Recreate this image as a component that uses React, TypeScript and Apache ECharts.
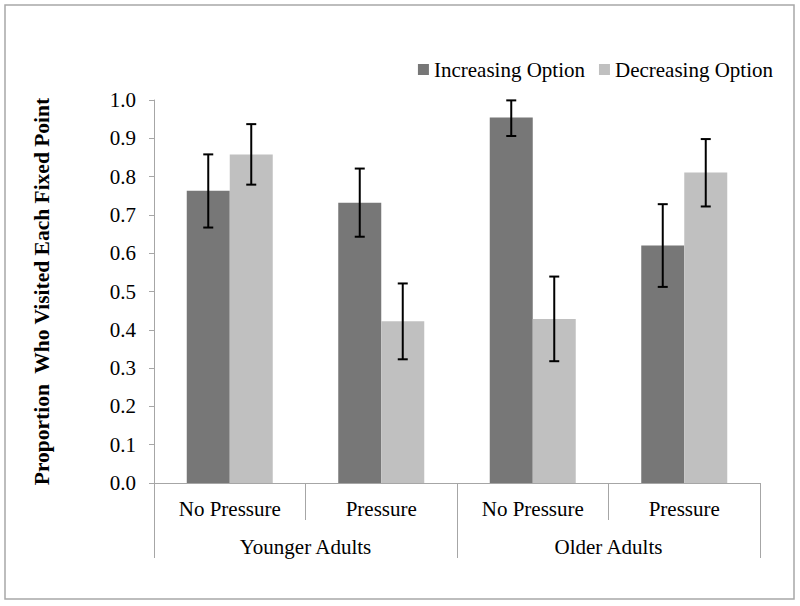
import React, { useEffect, useRef } from "react";
import * as echarts from "echarts";

const conditions = ["No Pressure", "Pressure", "No Pressure", "Pressure"];
const groups = ["Younger Adults", "Older Adults"];
const seriesNames = ["Increasing Option", "Decreasing Option"];
const increasing = [0.763, 0.732, 0.954, 0.62];
const decreasing = [0.858, 0.422, 0.428, 0.811];
const increasingLow = [0.667, 0.643, 0.906, 0.512];
const increasingHigh = [0.858, 0.821, 0.999, 0.728];
const decreasingLow = [0.779, 0.323, 0.318, 0.722];
const decreasingHigh = [0.937, 0.521, 0.539, 0.898];
const yTicks = [0, 0.1, 0.2, 0.3, 0.4, 0.5, 0.6, 0.7, 0.8, 0.9, 1.0];

const FONT = "Liberation Serif";
const AXIS_GRAY = "#a6a6a6";
const BAR_W = 43;
const FS = 21;

function errorSeries(low: number[], high: number[], offset: number) {
  return {
    type: "custom",
    xAxisIndex: 0,
    yAxisIndex: 0,
    silent: true,
    z: 10,
    data: low.map((l, i) => [i, l, high[i]]),
    encode: { x: 0, y: [1, 2] },
    renderItem: (params: any, api: any) => {
      const cat = api.value(0);
      const pLo = api.coord([cat, api.value(1)]);
      const pHi = api.coord([cat, api.value(2)]);
      const x = pLo[0] + offset;
      const st = { stroke: "#000", lineWidth: 2 };
      return {
        type: "group",
        children: [
          { type: "line", shape: { x1: x, y1: pHi[1], x2: x, y2: pLo[1] }, style: st },
          { type: "line", shape: { x1: x - 5, y1: pHi[1], x2: x + 5, y2: pHi[1] }, style: st },
          { type: "line", shape: { x1: x - 5, y1: pLo[1], x2: x + 5, y2: pLo[1] }, style: st },
        ],
      };
    },
  };
}

export default function App() {
  const ref = useRef<HTMLDivElement>(null);
  useEffect(() => {
    if (!ref.current) return;
    const chart = echarts.init(ref.current, undefined, { renderer: "svg" });
    chart.setOption({
      animation: false,
      backgroundColor: "#fff",
      textStyle: { fontFamily: FONT, color: "#000" },
      graphic: [
        {
          type: "rect",
          shape: { x: 5, y: 5, width: 789, height: 594 },
          style: { fill: "none", stroke: "#a8a8a8", lineWidth: 1.5 },
          silent: true,
        },
      ],
      legend: {
        data: seriesNames,
        right: 22,
        top: 54,
        icon: "rect",
        itemWidth: 11,
        itemHeight: 11,
        itemGap: 14,
        textStyle: { fontFamily: FONT, fontSize: FS, color: "#000" },
      },
      grid: { left: 154, top: 100, width: 606, height: 383, containLabel: false },
      xAxis: [
        {
          type: "category",
          data: conditions,
          position: "bottom",
          axisLine: { show: true, lineStyle: { color: AXIS_GRAY, width: 1 } },
          axisTick: { show: true, interval: 0, length: 37, lineStyle: { color: AXIS_GRAY } },
          axisLabel: { interval: 0, margin: 15, fontFamily: FONT, fontSize: FS, color: "#000" },
        },
        {
          type: "category",
          data: groups,
          position: "bottom",
          axisLine: { show: false },
          axisTick: { show: true, interval: 0, length: 75, lineStyle: { color: AXIS_GRAY } },
          axisLabel: { interval: 0, margin: 53, fontFamily: FONT, fontSize: FS, color: "#000" },
        },
      ],
      yAxis: {
        type: "value",
        min: yTicks[0],
        max: yTicks[yTicks.length - 1],
        interval: 0.1,
        name: "Proportion  Who Visited Each Fixed Point",
        nameLocation: "middle",
        nameGap: 101,
        nameTextStyle: { fontFamily: FONT, fontSize: 21.5, fontWeight: "bold", color: "#000" },
        axisLine: { show: true, lineStyle: { color: AXIS_GRAY, width: 1 } },
        axisTick: { show: true, length: 5, lineStyle: { color: AXIS_GRAY } },
        axisLabel: {
          margin: 18,
          fontFamily: FONT,
          fontSize: FS,
          color: "#000",
          formatter: (v: number) => v.toFixed(1),
        },
        splitLine: { show: false },
      },
      series: [
        {
          name: seriesNames[0],
          type: "bar",
          data: increasing,
          barWidth: BAR_W,
          barGap: "0%",
          itemStyle: { color: "#777777" },
        },
        {
          name: seriesNames[1],
          type: "bar",
          data: decreasing,
          barWidth: BAR_W,
          barGap: "0%",
          itemStyle: { color: "#c0c0c0" },
        },
        errorSeries(increasingLow, increasingHigh, -BAR_W / 2),
        errorSeries(decreasingLow, decreasingHigh, BAR_W / 2),
      ],
    });
    return () => chart.dispose();
  }, []);
  return (
    <div
      ref={ref}
      style={{ position: "fixed", left: 0, top: 0, width: 800, height: 606 }}
    />
  );
}
